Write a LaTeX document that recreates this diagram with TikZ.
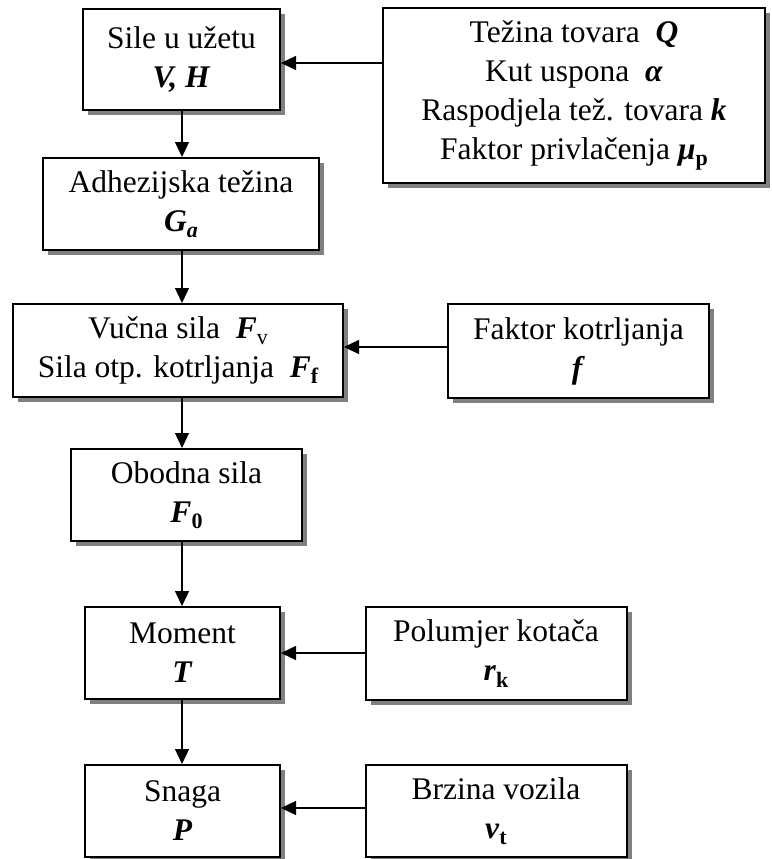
\documentclass[tikz,border=0pt]{standalone}
\usepackage{fontspec}
\setmainfont{Liberation Serif}
\usetikzlibrary{shadows,arrows.meta}
\newcommand{\bi}[1]{\textbf{\textit{#1}}}
\newcommand{\sbn}[1]{\raisebox{-0.2em}{\fontsize{22}{22}\selectfont #1}}
\newcommand{\sbb}[1]{\raisebox{-0.2em}{\fontsize{22}{22}\selectfont\bfseries #1}}
\newcommand{\sbi}[1]{\raisebox{-0.2em}{\fontsize{22}{22}\selectfont\bfseries\itshape #1}}
\begin{document}
\begin{tikzpicture}[x=1pt,y=-1pt,
  box/.style={draw, line width=2pt, fill=white, inner sep=0pt, align=center,
    font=\fontsize{31.5}{39}\selectfont,
    drop shadow={shadow xshift=5pt, shadow yshift=-5pt, fill=black!50, opacity=1}},
  arr/.style={line width=1.3pt, -{Triangle[length=15pt,width=14pt]}}]
\useasboundingbox (0,0) rectangle (771,859);
\coordinate (ax) at (182,0);
\coordinate (y1) at (0,63);
\coordinate (y4) at (0,347);
\coordinate (y7) at (0,653);
\coordinate (y9) at (0,808);

\node[box, minimum width=197pt, minimum height=101pt] (b1) at (181.5,59.5) {Sile u užetu\\\bi{V, H}};
\node[box, minimum width=382pt, minimum height=175pt] (b2) at (574,95.5) {Težina tovara\ \ \bi{Q}\\Kut uspona\ \ \bi{α}\\Raspodjela tež. tovara \bi{k}\\Faktor privlačenja \bi{μ}\sbb{p}};
\node[box, minimum width=276pt, minimum height=92pt] (b3) at (181,204) {Adhezijska težina\\\bi{G}\sbi{a}};
\node[box, minimum width=330pt, minimum height=93pt] (b4) at (178,350.5) {Vučna sila\ \ \bi{F}\sbn{v}\\Sila otp. kotrljanja\ \ \bi{F}\sbb{f}};
\node[box, minimum width=261pt, minimum height=94pt] (b5) at (578.5,351) {Faktor kotrljanja\\\bi{f}};
\node[box, minimum width=231pt, minimum height=92pt] (b6) at (186.5,495) {Obodna sila\\\bi{F}\sbb{0}};
\node[box, minimum width=195pt, minimum height=92pt] (b7) at (182.5,653) {Moment\\\bi{T}};
\node[box, minimum width=261pt, minimum height=93pt] (b8) at (496,653.5) {Polumjer kotača\\\bi{r}\sbb{k}};
\node[box, minimum width=195pt, minimum height=92pt] (b9) at (182.5,811) {Snaga\\\bi{P}};
\node[box, minimum width=261pt, minimum height=92pt] (b10) at (496,811) {Brzina vozila\\\bi{v}\sbb{t}};

\draw[arr] (b1.south -| ax) -- (b3.north -| ax);
\draw[arr] (b3.south -| ax) -- (b4.north -| ax);
\draw[arr] (b4.south -| ax) -- (b6.north -| ax);
\draw[arr] (b6.south -| ax) -- (b7.north -| ax);
\draw[arr] (b7.south -| ax) -- (b9.north -| ax);

\draw[arr] (b2.west |- y1) -- (b1.east |- y1);
\draw[arr] (b5.west |- y4) -- (b4.east |- y4);
\draw[arr] (b8.west |- y7) -- (b7.east |- y7);
\draw[arr] (b10.west |- y9) -- (b9.east |- y9);
\end{tikzpicture}
\end{document}
